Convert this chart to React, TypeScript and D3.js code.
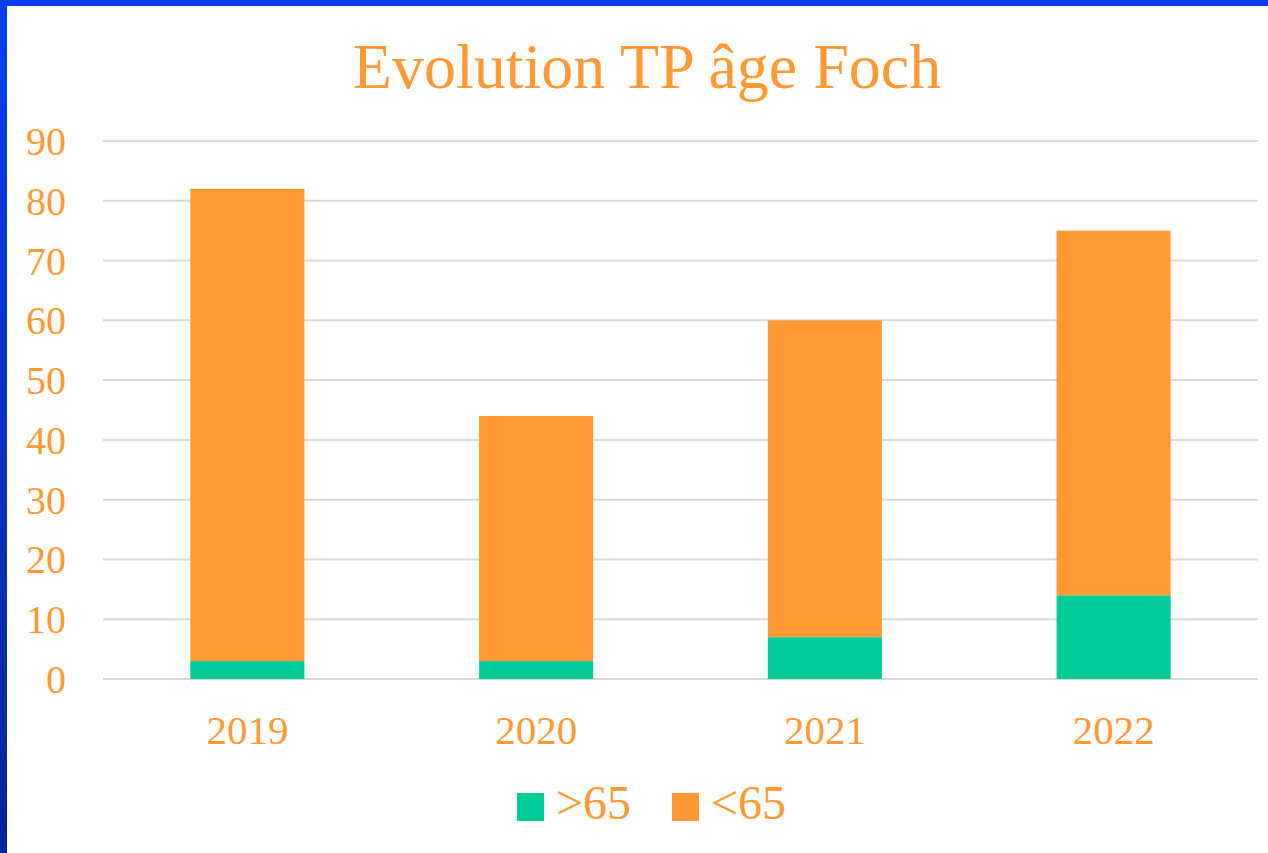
import React, { useEffect, useRef } from 'react';
import * as d3 from 'd3';

const years = ['2019', '2020', '2021', '2022'];
const over65 = [3, 3, 7, 14];
const under65 = [79, 41, 53, 61];
const yTicks = [0, 10, 20, 30, 40, 50, 60, 70, 80, 90];
const seriesNames = ['>65', '<65'];
const seriesColors = ['#00CC99', '#FF9933'];

const W = 1268, H = 853;

const App = () => {
  const ref = useRef<SVGSVGElement>(null);

  useEffect(() => {
    const svg = d3.select(ref.current);
    svg.selectAll('*').remove();

    const font = '"Liberation Serif", "Times New Roman", serif';
    const orange = '#FF9933';
    const margin = { top: 141, right: 10, bottom: 174, left: 103 };
    const plotW = W - margin.left - margin.right;
    const plotH = H - margin.top - margin.bottom;

    // background + blue frame
    const grad = svg.append('defs').append('linearGradient')
      .attr('id', 'frame').attr('x1', 0).attr('y1', 0).attr('x2', 0).attr('y2', 1);
    grad.append('stop').attr('offset', '0%').attr('stop-color', '#0a3ef2');
    grad.append('stop').attr('offset', '100%').attr('stop-color', '#0a2496');
    svg.append('rect').attr('width', W).attr('height', H).attr('fill', 'white');
    svg.append('rect').attr('x', 0).attr('y', 0).attr('width', 7).attr('height', H).attr('fill', 'url(#frame)');
    svg.append('rect').attr('x', 0).attr('y', 0).attr('width', W).attr('height', 6).attr('fill', '#0a3ef2');

    svg.append('text')
      .attr('x', 647).attr('y', 88)
      .attr('text-anchor', 'middle')
      .attr('font-family', font).attr('font-size', 64)
      .attr('fill', orange)
      .text('Evolution TP âge Foch');

    const g = svg.append('g').attr('transform', `translate(${margin.left},${margin.top})`);

    const x = d3.scaleBand().domain(years).range([0, plotW]).paddingInner(0.605).paddingOuter(0.3025);
    const y = d3.scaleLinear().domain([0, 90]).range([plotH, 0]);

    g.selectAll('line.grid').data(yTicks).enter().append('line')
      .attr('x1', 0).attr('x2', plotW)
      .attr('y1', d => y(d)).attr('y2', d => y(d))
      .attr('stroke', '#D9D9D9').attr('stroke-width', 2);

    g.selectAll('text.yl').data(yTicks).enter().append('text')
      .attr('x', -37).attr('y', d => y(d)).attr('dy', '0.35em')
      .attr('text-anchor', 'end')
      .attr('font-family', font).attr('font-size', 40).attr('fill', orange)
      .text(d => d);

    const rows = years.map((yr, i) => ({ year: yr, over: over65[i], under: under65[i] }));
    const stack = d3.stack<any>().keys(['over', 'under'])(rows);

    g.selectAll('g.s').data(stack).enter().append('g')
      .attr('fill', (d, i) => seriesColors[i])
      .selectAll('rect').data(d => d).enter().append('rect')
      .attr('x', d => x(d.data.year)!)
      .attr('width', x.bandwidth())
      .attr('y', d => y(d[1]))
      .attr('height', d => y(d[0]) - y(d[1]));

    g.selectAll('text.xl').data(years).enter().append('text')
      .attr('x', d => x(d)! + x.bandwidth() / 2).attr('y', plotH + 65)
      .attr('text-anchor', 'middle')
      .attr('font-family', font).attr('font-size', 41).attr('fill', orange)
      .text(d => d);

    // legend
    const legend = svg.append('g').attr('transform', 'translate(517,793)');
    const offsets = [0, 155];
    seriesNames.forEach((name, i) => {
      const lg = legend.append('g').attr('transform', `translate(${offsets[i]},0)`);
      lg.append('rect').attr('width', 27).attr('height', 28).attr('fill', seriesColors[i]);
      lg.append('text').attr('x', 39).attr('y', 26)
        .attr('font-family', font).attr('font-size', 48).attr('fill', orange)
        .text(name);
    });
  }, []);

  return (
    <svg ref={ref} width={W} height={H} style={{ position: 'absolute', left: 0, top: 0, display: 'block' }} />
  );
};

export default App;
